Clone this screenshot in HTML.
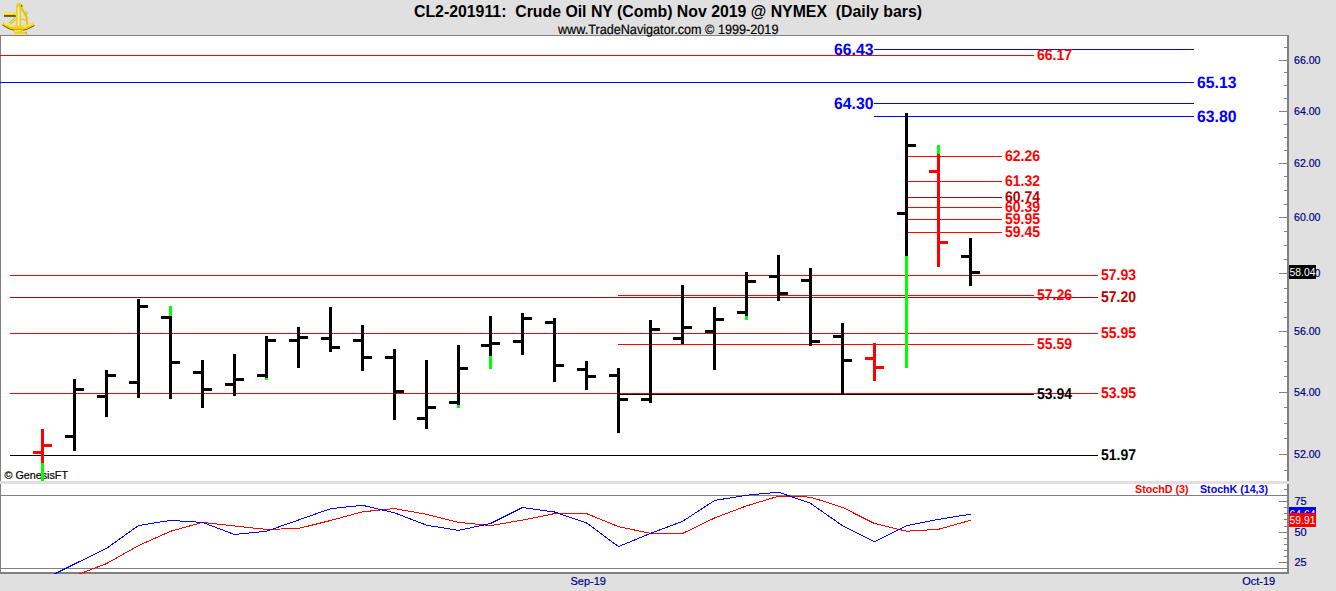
<!DOCTYPE html>
<html><head><meta charset="utf-8"><title>CL2-201911 Crude Oil NY</title>
<style>
html,body{margin:0;padding:0;background:#e0e0e0;}
body{width:1336px;height:591px;position:relative;overflow:hidden;font-family:'Liberation Sans', Arial, sans-serif;}
</style></head><body>
<svg width="1336" height="591" viewBox="0 0 1336 591" style="position:absolute;left:0;top:0;display:block" shape-rendering="crispEdges"><rect x="0" y="0" width="1336" height="591" fill="#e0e0e0"/><rect x="0" y="35" width="1289" height="1" fill="#808080"/><rect x="0" y="35" width="1" height="446" fill="#808080"/><rect x="1" y="36" width="1286" height="445" fill="#fff"/><rect x="1287" y="35" width="2" height="446" fill="#808080"/><rect x="0" y="484" width="1" height="90" fill="#808080"/><rect x="1" y="484" width="1286" height="88" fill="#fff"/><rect x="1287" y="484" width="2" height="90" fill="#808080"/><rect x="0" y="572" width="1289" height="2" fill="#808080"/><rect x="1" y="495" width="1286" height="1" fill="#808080"/><rect x="1" y="568" width="1286" height="1" fill="#808080"/><rect x="1284" y="470" width="3" height="1" fill="#808080"/><rect x="1279" y="454" width="8" height="1" fill="#808080"/><rect x="1284" y="438" width="3" height="1" fill="#808080"/><rect x="1284" y="423" width="3" height="1" fill="#808080"/><rect x="1284" y="407" width="3" height="1" fill="#808080"/><rect x="1279" y="392" width="8" height="1" fill="#808080"/><rect x="1284" y="376" width="3" height="1" fill="#808080"/><rect x="1284" y="361" width="3" height="1" fill="#808080"/><rect x="1284" y="346" width="3" height="1" fill="#808080"/><rect x="1279" y="331" width="8" height="1" fill="#808080"/><rect x="1284" y="317" width="3" height="1" fill="#808080"/><rect x="1284" y="302" width="3" height="1" fill="#808080"/><rect x="1284" y="288" width="3" height="1" fill="#808080"/><rect x="1279" y="273" width="8" height="1" fill="#808080"/><rect x="1284" y="259" width="3" height="1" fill="#808080"/><rect x="1284" y="245" width="3" height="1" fill="#808080"/><rect x="1284" y="231" width="3" height="1" fill="#808080"/><rect x="1279" y="217" width="8" height="1" fill="#808080"/><rect x="1284" y="204" width="3" height="1" fill="#808080"/><rect x="1284" y="190" width="3" height="1" fill="#808080"/><rect x="1284" y="176" width="3" height="1" fill="#808080"/><rect x="1279" y="163" width="8" height="1" fill="#808080"/><rect x="1284" y="150" width="3" height="1" fill="#808080"/><rect x="1284" y="137" width="3" height="1" fill="#808080"/><rect x="1284" y="124" width="3" height="1" fill="#808080"/><rect x="1279" y="111" width="8" height="1" fill="#808080"/><rect x="1284" y="98" width="3" height="1" fill="#808080"/><rect x="1284" y="85" width="3" height="1" fill="#808080"/><rect x="1284" y="72" width="3" height="1" fill="#808080"/><rect x="1279" y="60" width="8" height="1" fill="#808080"/><rect x="1284" y="47" width="3" height="1" fill="#808080"/><rect x="1284" y="489" width="3" height="1" fill="#808080"/><rect x="1284" y="495" width="3" height="1" fill="#808080"/><rect x="1284" y="507" width="3" height="1" fill="#808080"/><rect x="1284" y="513" width="3" height="1" fill="#808080"/><rect x="1284" y="519" width="3" height="1" fill="#808080"/><rect x="1284" y="526" width="3" height="1" fill="#808080"/><rect x="1284" y="538" width="3" height="1" fill="#808080"/><rect x="1284" y="544" width="3" height="1" fill="#808080"/><rect x="1284" y="550" width="3" height="1" fill="#808080"/><rect x="1284" y="556" width="3" height="1" fill="#808080"/><rect x="1279" y="501" width="8" height="1" fill="#808080"/><rect x="1279" y="532" width="8" height="1" fill="#808080"/><rect x="1279" y="562" width="8" height="1" fill="#808080"/><rect x="874" y="49" width="320" height="1" fill="#0000ff"/><rect x="0" y="55" width="1034" height="1" fill="#ff0000"/><rect x="0" y="82" width="1194" height="1" fill="#0000ff"/><rect x="874" y="103" width="320" height="1" fill="#0000ff"/><rect x="874" y="116" width="320" height="1" fill="#0000ff"/><rect x="906" y="156" width="96" height="1" fill="#ff0000"/><rect x="906" y="181" width="96" height="1" fill="#ff0000"/><rect x="906" y="197" width="96" height="1" fill="#b30000"/><rect x="906" y="207" width="96" height="1" fill="#ff0000"/><rect x="906" y="219" width="96" height="1" fill="#ff0000"/><rect x="906" y="232" width="96" height="1" fill="#ff0000"/><rect x="10" y="275" width="1088" height="1" fill="#ff0000"/><rect x="618" y="295" width="416" height="1" fill="#ff0000"/><rect x="10" y="297" width="1088" height="1" fill="#b30000"/><rect x="10" y="333" width="1088" height="1" fill="#ff0000"/><rect x="618" y="344" width="416" height="1" fill="#ff0000"/><rect x="10" y="393" width="1088" height="1" fill="#ff0000"/><rect x="618" y="394" width="416" height="1" fill="#000"/><rect x="10" y="455" width="1088" height="1" fill="#000"/><text x="4.5" y="479" font-family="'Liberation Sans', Arial, sans-serif" font-size="11" fill="#000" stroke="#000" stroke-width="0.2" textLength="63.5" lengthAdjust="spacingAndGlyphs">© GenesisFT</text><rect x="41" y="429" width="3" height="52" fill="#ff0000"/><rect x="41" y="463" width="3" height="18" fill="#00ff00"/><rect x="33" y="451" width="8" height="3" fill="#ff0000"/><rect x="44" y="444" width="8" height="3" fill="#ff0000"/><rect x="73" y="379" width="3" height="72" fill="#000"/><rect x="65" y="435" width="8" height="3" fill="#000"/><rect x="76" y="388" width="8" height="3" fill="#000"/><rect x="105" y="370" width="3" height="47" fill="#000"/><rect x="97" y="395" width="8" height="3" fill="#000"/><rect x="108" y="374" width="8" height="3" fill="#000"/><rect x="137" y="299" width="3" height="99" fill="#000"/><rect x="129" y="381" width="8" height="3" fill="#000"/><rect x="140" y="305" width="8" height="3" fill="#000"/><rect x="169" y="306" width="3" height="93" fill="#000"/><rect x="169" y="306" width="3" height="10" fill="#00ff00"/><rect x="161" y="316" width="8" height="3" fill="#000"/><rect x="172" y="361" width="8" height="3" fill="#000"/><rect x="201" y="360" width="3" height="48" fill="#000"/><rect x="193" y="371" width="8" height="3" fill="#000"/><rect x="204" y="388" width="8" height="3" fill="#000"/><rect x="233" y="354" width="3" height="42" fill="#000"/><rect x="225" y="383" width="8" height="3" fill="#000"/><rect x="236" y="378" width="8" height="3" fill="#000"/><rect x="265" y="336" width="3" height="44" fill="#000"/><rect x="265" y="378" width="3" height="2" fill="#00ff00"/><rect x="257" y="374" width="8" height="3" fill="#000"/><rect x="268" y="339" width="8" height="3" fill="#000"/><rect x="297" y="327" width="3" height="41" fill="#000"/><rect x="289" y="339" width="8" height="3" fill="#000"/><rect x="300" y="336" width="8" height="3" fill="#000"/><rect x="329" y="307" width="3" height="45" fill="#000"/><rect x="321" y="337" width="8" height="3" fill="#000"/><rect x="332" y="346" width="8" height="3" fill="#000"/><rect x="361" y="325" width="3" height="46" fill="#000"/><rect x="353" y="339" width="8" height="3" fill="#000"/><rect x="364" y="356" width="8" height="3" fill="#000"/><rect x="393" y="349" width="3" height="71" fill="#000"/><rect x="385" y="356" width="8" height="3" fill="#000"/><rect x="396" y="390" width="8" height="3" fill="#000"/><rect x="425" y="360" width="3" height="69" fill="#000"/><rect x="417" y="417" width="8" height="3" fill="#000"/><rect x="428" y="406" width="8" height="3" fill="#000"/><rect x="457" y="345" width="3" height="63" fill="#000"/><rect x="457" y="405" width="3" height="3" fill="#00ff00"/><rect x="449" y="401" width="8" height="3" fill="#000"/><rect x="460" y="367" width="8" height="3" fill="#000"/><rect x="489" y="316" width="3" height="53" fill="#000"/><rect x="489" y="356" width="3" height="13" fill="#00ff00"/><rect x="481" y="344" width="8" height="3" fill="#000"/><rect x="492" y="342" width="8" height="3" fill="#000"/><rect x="521" y="313" width="3" height="42" fill="#000"/><rect x="513" y="340" width="8" height="3" fill="#000"/><rect x="524" y="317" width="8" height="3" fill="#000"/><rect x="553" y="318" width="3" height="64" fill="#000"/><rect x="545" y="321" width="8" height="3" fill="#000"/><rect x="556" y="364" width="8" height="3" fill="#000"/><rect x="585" y="361" width="3" height="29" fill="#000"/><rect x="577" y="368" width="8" height="3" fill="#000"/><rect x="588" y="375" width="8" height="3" fill="#000"/><rect x="617" y="368" width="3" height="65" fill="#000"/><rect x="609" y="374" width="8" height="3" fill="#000"/><rect x="620" y="398" width="8" height="3" fill="#000"/><rect x="649" y="320" width="3" height="83" fill="#000"/><rect x="641" y="398" width="8" height="3" fill="#000"/><rect x="652" y="328" width="8" height="3" fill="#000"/><rect x="681" y="285" width="3" height="59" fill="#000"/><rect x="673" y="337" width="8" height="3" fill="#000"/><rect x="684" y="326" width="8" height="3" fill="#000"/><rect x="713" y="307" width="3" height="63" fill="#000"/><rect x="705" y="330" width="8" height="3" fill="#000"/><rect x="716" y="318" width="8" height="3" fill="#000"/><rect x="745" y="272" width="3" height="48" fill="#000"/><rect x="745" y="316" width="3" height="4" fill="#00ff00"/><rect x="737" y="311" width="8" height="3" fill="#000"/><rect x="748" y="280" width="8" height="3" fill="#000"/><rect x="777" y="255" width="3" height="46" fill="#000"/><rect x="769" y="275" width="8" height="3" fill="#000"/><rect x="780" y="292" width="8" height="3" fill="#000"/><rect x="809" y="268" width="3" height="78" fill="#000"/><rect x="801" y="279" width="8" height="3" fill="#000"/><rect x="812" y="340" width="8" height="3" fill="#000"/><rect x="841" y="323" width="3" height="71" fill="#000"/><rect x="833" y="335" width="8" height="3" fill="#000"/><rect x="844" y="359" width="8" height="3" fill="#000"/><rect x="873" y="343" width="3" height="38" fill="#ff0000"/><rect x="865" y="357" width="8" height="3" fill="#ff0000"/><rect x="876" y="366" width="8" height="3" fill="#ff0000"/><rect x="905" y="113" width="3" height="255" fill="#000"/><rect x="905" y="256" width="3" height="112" fill="#00ff00"/><rect x="897" y="212" width="8" height="3" fill="#000"/><rect x="908" y="144" width="8" height="3" fill="#000"/><rect x="937" y="145" width="3" height="122" fill="#ff0000"/><rect x="937" y="145" width="3" height="9" fill="#00ff00"/><rect x="929" y="170" width="8" height="3" fill="#ff0000"/><rect x="940" y="241" width="8" height="3" fill="#ff0000"/><rect x="969" y="238" width="3" height="48" fill="#000"/><rect x="961" y="255" width="8" height="3" fill="#000"/><rect x="972" y="271" width="8" height="3" fill="#000"/></svg><svg width="1336" height="591" style="position:absolute;left:0;top:0;display:block"><defs><clipPath id="cp"><rect x="1" y="484" width="1286" height="90"/></clipPath></defs><polyline clip-path="url(#cp)" points="42.5,590.0 74.5,575.8 106.5,563.6 138.5,545.6 170.5,531.3 202.5,522.4 234.5,526.0 266.5,529.4 298.5,528.5 330.5,520.5 362.5,511.8 394.5,508.6 426.5,514.3 458.5,522.4 490.5,525.6 522.5,520.1 554.5,513.6 586.5,513.6 618.5,526.6 650.5,533.4 682.5,533.5 714.5,518.0 746.5,505.9 778.5,496.2 810.5,497.1 842.5,507.4 874.5,523.5 906.5,531.2 938.5,529.3 970.5,520.3" fill="none" stroke="#ff0000" stroke-width="1" shape-rendering="crispEdges"/><polyline clip-path="url(#cp)" points="42.5,580.0 74.5,564.0 106.5,548.4 138.5,525.5 170.5,520.4 202.5,522.4 234.5,534.5 266.5,531.2 298.5,520.0 330.5,508.7 362.5,505.3 394.5,512.8 426.5,525.2 458.5,530.4 490.5,523.5 522.5,507.5 554.5,512.0 586.5,522.9 618.5,546.6 650.5,533.4 682.5,521.4 714.5,500.5 746.5,495.2 778.5,492.2 810.5,503.3 842.5,525.7 874.5,541.9 906.5,525.7 938.5,519.4 970.5,514.2" fill="none" stroke="#0000ff" stroke-width="1" shape-rendering="crispEdges"/></svg>
<svg width="1336" height="591" style="position:absolute;left:0;top:0;display:block" font-family="'Liberation Sans', Arial, sans-serif"><text x="873.5" y="55.3" font-size="16.5" fill="#0000ff" font-weight="bold" text-anchor="end" textLength="39.5" lengthAdjust="spacingAndGlyphs" text-rendering="geometricPrecision">66.43</text><text x="1037" y="59.9" font-size="15.5" fill="#ff0000" font-weight="bold" text-anchor="start" textLength="35" lengthAdjust="spacingAndGlyphs" text-rendering="geometricPrecision">66.17</text><text x="1197" y="88.3" font-size="16.5" fill="#0000ff" font-weight="bold" text-anchor="start" textLength="39.5" lengthAdjust="spacingAndGlyphs" text-rendering="geometricPrecision">65.13</text><text x="873.5" y="109.3" font-size="16.5" fill="#0000ff" font-weight="bold" text-anchor="end" textLength="39.5" lengthAdjust="spacingAndGlyphs" text-rendering="geometricPrecision">64.30</text><text x="1197" y="122.3" font-size="16.5" fill="#0000ff" font-weight="bold" text-anchor="start" textLength="39.5" lengthAdjust="spacingAndGlyphs" text-rendering="geometricPrecision">63.80</text><text x="1005" y="160.9" font-size="15.5" fill="#ff0000" font-weight="bold" text-anchor="start" textLength="35" lengthAdjust="spacingAndGlyphs" text-rendering="geometricPrecision">62.26</text><text x="1005" y="185.9" font-size="15.5" fill="#ff0000" font-weight="bold" text-anchor="start" textLength="35" lengthAdjust="spacingAndGlyphs" text-rendering="geometricPrecision">61.32</text><text x="1005" y="201.9" font-size="15.5" fill="#b30000" font-weight="bold" text-anchor="start" textLength="35" lengthAdjust="spacingAndGlyphs" text-rendering="geometricPrecision">60.74</text><text x="1005" y="211.9" font-size="15.5" fill="#ff0000" font-weight="bold" text-anchor="start" textLength="35" lengthAdjust="spacingAndGlyphs" text-rendering="geometricPrecision">60.39</text><text x="1005" y="223.9" font-size="15.5" fill="#ff0000" font-weight="bold" text-anchor="start" textLength="35" lengthAdjust="spacingAndGlyphs" text-rendering="geometricPrecision">59.95</text><text x="1005" y="236.9" font-size="15.5" fill="#ff0000" font-weight="bold" text-anchor="start" textLength="35" lengthAdjust="spacingAndGlyphs" text-rendering="geometricPrecision">59.45</text><text x="1101" y="279.9" font-size="15.5" fill="#ff0000" font-weight="bold" text-anchor="start" textLength="35" lengthAdjust="spacingAndGlyphs" text-rendering="geometricPrecision">57.93</text><text x="1037" y="299.9" font-size="15.5" fill="#ff0000" font-weight="bold" text-anchor="start" textLength="35" lengthAdjust="spacingAndGlyphs" text-rendering="geometricPrecision">57.26</text><text x="1101" y="301.9" font-size="15.5" fill="#b30000" font-weight="bold" text-anchor="start" textLength="35" lengthAdjust="spacingAndGlyphs" text-rendering="geometricPrecision">57.20</text><text x="1101" y="337.9" font-size="15.5" fill="#ff0000" font-weight="bold" text-anchor="start" textLength="35" lengthAdjust="spacingAndGlyphs" text-rendering="geometricPrecision">55.95</text><text x="1037" y="348.9" font-size="15.5" fill="#ff0000" font-weight="bold" text-anchor="start" textLength="35" lengthAdjust="spacingAndGlyphs" text-rendering="geometricPrecision">55.59</text><text x="1101" y="397.9" font-size="15.5" fill="#ff0000" font-weight="bold" text-anchor="start" textLength="35" lengthAdjust="spacingAndGlyphs" text-rendering="geometricPrecision">53.95</text><text x="1037" y="398.9" font-size="15.5" fill="#000" font-weight="bold" text-anchor="start" textLength="35" lengthAdjust="spacingAndGlyphs" text-rendering="geometricPrecision">53.94</text><text x="1101" y="459.9" font-size="15.5" fill="#000" font-weight="bold" text-anchor="start" textLength="35" lengthAdjust="spacingAndGlyphs" text-rendering="geometricPrecision">51.97</text><text x="668" y="16.8" font-size="16" fill="#000" font-weight="bold" text-anchor="middle" textLength="508" lengthAdjust="spacingAndGlyphs">CL2-201911:  Crude Oil NY (Comb) Nov 2019 @ NYMEX  (Daily bars)</text><text x="668.2" y="33.6" font-size="13.6" fill="#000" stroke="#000" stroke-width="0.2" text-anchor="middle" textLength="220.5" lengthAdjust="spacingAndGlyphs" text-rendering="geometricPrecision">www.TradeNavigator.com © 1999-2019</text><text x="1294" y="63.9" font-size="11" fill="#000080" stroke="#000080" stroke-width="0.2" text-anchor="start" textLength="26.5" lengthAdjust="spacingAndGlyphs">66.00</text><text x="1294" y="114.9" font-size="11" fill="#000080" stroke="#000080" stroke-width="0.2" text-anchor="start" textLength="26.5" lengthAdjust="spacingAndGlyphs">64.00</text><text x="1294" y="166.9" font-size="11" fill="#000080" stroke="#000080" stroke-width="0.2" text-anchor="start" textLength="26.5" lengthAdjust="spacingAndGlyphs">62.00</text><text x="1294" y="220.9" font-size="11" fill="#000080" stroke="#000080" stroke-width="0.2" text-anchor="start" textLength="26.5" lengthAdjust="spacingAndGlyphs">60.00</text><text x="1294" y="276.9" font-size="11" fill="#000080" stroke="#000080" stroke-width="0.2" text-anchor="start" textLength="26.5" lengthAdjust="spacingAndGlyphs">58.00</text><text x="1294" y="334.9" font-size="11" fill="#000080" stroke="#000080" stroke-width="0.2" text-anchor="start" textLength="26.5" lengthAdjust="spacingAndGlyphs">56.00</text><text x="1294" y="395.9" font-size="11" fill="#000080" stroke="#000080" stroke-width="0.2" text-anchor="start" textLength="26.5" lengthAdjust="spacingAndGlyphs">54.00</text><text x="1294" y="457.9" font-size="11" fill="#000080" stroke="#000080" stroke-width="0.2" text-anchor="start" textLength="26.5" lengthAdjust="spacingAndGlyphs">52.00</text><text x="1294.5" y="505.0" font-size="11" fill="#000080" stroke="#000080" stroke-width="0.2" text-anchor="start">75</text><text x="1294.5" y="536.0" font-size="11" fill="#000080" stroke="#000080" stroke-width="0.2" text-anchor="start">50</text><text x="1294.5" y="566.0" font-size="11" fill="#000080" stroke="#000080" stroke-width="0.2" text-anchor="start">25</text><text x="570.5" y="585.0" font-size="11" fill="#000080" stroke="#000080" stroke-width="0.2" text-anchor="start">Sep-19</text><text x="1242.2" y="585.0" font-size="11" fill="#000080" stroke="#000080" stroke-width="0.2" text-anchor="start">Oct-19</text><text x="1135" y="492.9" font-size="11" fill="#ff0000" font-weight="bold" text-anchor="start" textLength="53.5" lengthAdjust="spacingAndGlyphs">StochD (3)</text><text x="1200" y="492.9" font-size="11" fill="#0000ff" font-weight="bold" text-anchor="start" textLength="68" lengthAdjust="spacingAndGlyphs">StochK (14,3)</text><g shape-rendering="crispEdges"><rect x="1289" y="265" width="27" height="14" fill="#000"/><text x="1289.5" y="276" font-size="11" fill="#fff" textLength="26" lengthAdjust="spacingAndGlyphs">58.04</text><rect x="1289" y="507" width="27" height="14" fill="#0000ff"/><text x="1289.5" y="518" font-size="11" fill="#fff" textLength="26" lengthAdjust="spacingAndGlyphs">64.64</text><rect x="1289" y="513" width="27" height="14" fill="#ff0000"/><text x="1289.5" y="524" font-size="11" fill="#fff" textLength="26" lengthAdjust="spacingAndGlyphs">59.91</text></g><g>
<path d="M2.4,25 L3.7,22 Q18,30 33,22.3 L34.5,25.6 Q18,36.5 2.4,25 Z" fill="#f3d40c"/>
<path d="M2.4,25 Q18,36.5 34.5,25.6" fill="none" stroke="#5a4a00" stroke-width="0.9"/>
<path d="M4.5,23.4 Q18,30.5 32.5,23.6" fill="none" stroke="#fff7a0" stroke-width="0.8"/>
<path d="M8.8,23.2 L15.4,17.4 M10.6,24.2 L16.2,19.2" stroke="#e2c000" stroke-width="1.1" fill="none"/>
<path d="M21.3,18.9 L26.4,20.2" stroke="#e2c000" stroke-width="1.1" fill="none"/>
<path d="M21.2,7.3 L26.8,17.7 L27.2,24.6" stroke="#e8c800" stroke-width="2.1" fill="none"/>
<circle cx="26" cy="13.2" r="1.4" fill="none" stroke="#d8b800" stroke-width="0.9"/>
<rect x="4" y="11.9" width="11.6" height="4.2" rx="1.6" fill="#f0cf10"/>
<rect x="4.4" y="12.6" width="10" height="1.2" fill="#fff4a0"/>
<rect x="4" y="15.3" width="11.8" height="1.4" fill="#3a2e00"/>
<rect x="16.4" y="6" width="4.6" height="21" fill="#ecc808"/>
<rect x="17.7" y="6.5" width="1.8" height="20" fill="#fff5a8"/>
<path d="M15.2,6.3 L17.6,3.3 L19.5,2.6 L21.4,4 L22.9,6.3 Z" fill="#efcc10"/>
<path d="M21.6,4.8 L22.9,6.3 L20.8,6.6 Z" fill="#2a2000"/>
<path d="M14,26 L23.1,26 L23.1,34.1 L14,34.1 Z" fill="#f4d414"/>
<rect x="14.5" y="28.7" width="8" height="1.2" fill="#c9a600"/>
<rect x="15" y="30.5" width="5" height="0.8" fill="#fff4a0"/>
<rect x="23" y="32.4" width="3.5" height="1" fill="#d8b800"/>
<rect x="25.6" y="31.6" width="1.4" height="3.2" fill="#d8b800"/>
</g></svg>
</body></html>
